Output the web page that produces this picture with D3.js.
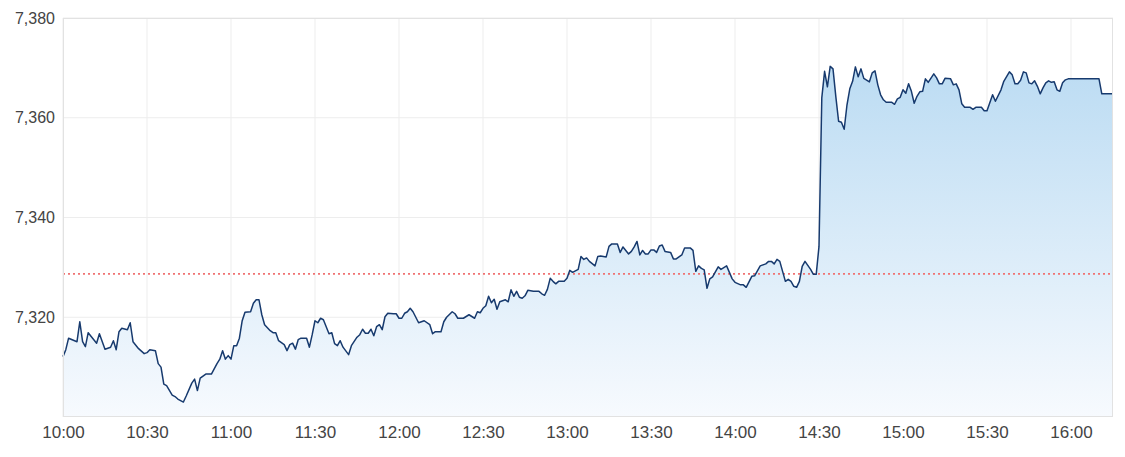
<!DOCTYPE html>
<html>
<head>
<meta charset="utf-8">
<script src="https://cdn.jsdelivr.net/npm/d3@7"></script>
<style>
  html, body { margin: 0; padding: 0; background: #fff; }
  svg { display: block; font-family: "Liberation Sans", Arial, sans-serif; }
</style>
</head>
<body>
<svg id="chart" width="1125" height="457"></svg>
<script>
// minutes after 10:00 and index level at that minute
const minutes = [
  0, 1, 2, 5, 6, 7, 8, 9, 12, 13, 15, 17, 18, 19, 20, 21, 23, 24, 25, 27,
  29, 30, 31, 33, 34, 35, 36, 37, 39, 40, 41, 43, 44, 46, 47, 48, 49, 51, 53, 55,
  56, 57, 58, 59, 60, 61, 62, 63, 64, 65, 67, 68, 69, 70, 71, 72, 74, 75, 76, 77,
  79, 80, 81, 82, 83, 84, 85, 87, 88, 89, 90, 91, 92, 93, 95, 96, 97, 98, 99, 100,
  102, 103, 105, 106, 107, 108, 109, 110, 111, 112, 113, 114, 115, 116, 118, 119, 120, 121, 122, 123,
  124, 125, 127, 128, 129, 131, 132, 133, 135, 136, 137, 139, 140, 141, 143, 145, 147, 148, 149, 150,
  151, 152, 153, 154, 155, 156, 158, 159, 160, 161, 162, 163, 164, 165, 166, 168, 170, 171, 172, 173,
  174, 175, 176, 177, 179, 180, 181, 182, 184, 185, 186, 187, 188, 190, 191, 192, 194, 195, 196, 198,
  199, 200, 202, 203, 204, 205, 206, 207, 208, 209, 210, 211, 212, 213, 214, 215, 217, 218, 219, 221,
  222, 224, 225, 226, 227, 228, 229, 230, 231, 232, 234, 235, 237, 239, 240, 242, 243, 244, 246, 247,
  249, 251, 252, 253, 254, 255, 256, 257, 258, 259, 260, 261, 262, 263, 264, 265, 267, 268, 269, 270,
  271, 272, 273, 274, 275, 276, 277, 278, 279, 280, 281, 282, 283, 284, 285, 286, 288, 289, 290, 291,
  292, 293, 294, 296, 297, 298, 299, 300, 301, 302, 303, 304, 305, 306, 307, 308, 309, 311, 312, 313,
  314, 315, 317, 318, 319, 320, 321, 322, 324, 325, 326, 328, 329, 330, 332, 333, 335, 336, 338, 339,
  340, 341, 342, 343, 344, 345, 346, 347, 348, 349, 350, 351, 352, 353, 354, 355, 356, 357, 358, 359,
  370, 371, 375
];
const prices = [
  7312.1, 7313.5, 7315.8, 7315.1, 7319.1, 7315.1, 7314.1, 7316.9, 7314.8, 7316.7, 7313.6, 7314.0, 7315.3, 7313.5, 7317.1, 7317.8, 7317.5, 7318.9, 7315.1, 7313.7,
  7312.7, 7312.9, 7313.5, 7313.3, 7310.7, 7310.0, 7306.6, 7306.3, 7304.4, 7304.1, 7303.6, 7303.0, 7304.2, 7306.8, 7307.6, 7305.3, 7307.8, 7308.6, 7308.6, 7310.7,
  7311.6, 7313.3, 7311.6, 7312.3, 7311.6, 7314.3, 7314.3, 7315.8, 7319.3, 7321.0, 7321.1, 7322.8, 7323.5, 7323.5, 7320.5, 7318.5, 7317.3, 7316.9, 7316.9, 7315.3,
  7314.5, 7313.3, 7314.5, 7314.8, 7313.6, 7315.5, 7315.8, 7315.8, 7314.0, 7316.5, 7319.3, 7318.9, 7319.8, 7319.5, 7316.7, 7316.9, 7314.7, 7314.3, 7315.3, 7314.0,
  7312.5, 7314.3, 7316.0, 7316.5, 7317.6, 7316.8, 7316.8, 7317.6, 7316.3, 7318.1, 7318.5, 7317.5, 7320.1, 7320.8, 7320.7, 7320.7, 7319.8, 7319.8, 7320.8, 7321.1,
  7321.8, 7321.1, 7318.9, 7319.1, 7319.3, 7318.5, 7316.7, 7317.1, 7317.1, 7319.1, 7320.0, 7321.1, 7320.7, 7319.8, 7319.8, 7320.5, 7319.8, 7321.1, 7320.9, 7321.8,
  7322.3, 7324.2, 7322.9, 7323.6, 7321.6, 7323.1, 7323.5, 7323.1, 7325.5, 7324.2, 7325.2, 7324.0, 7323.8, 7324.3, 7325.4, 7325.2, 7325.2, 7324.7, 7324.4, 7325.6,
  7327.8, 7327.2, 7326.7, 7327.2, 7327.2, 7327.8, 7329.4, 7329.0, 7329.6, 7332.2, 7331.6, 7331.9, 7331.2, 7330.3, 7332.2, 7332.3, 7332.1, 7334.2, 7334.7, 7334.7,
  7333.0, 7334.1, 7332.7, 7333.2, 7334.1, 7335.2, 7332.5, 7333.4, 7332.7, 7332.7, 7333.5, 7333.5, 7333.0, 7334.3, 7334.5, 7333.2, 7333.0, 7331.7, 7331.7, 7332.5,
  7333.9, 7333.9, 7333.4, 7329.2, 7330.3, 7329.8, 7329.5, 7325.8, 7327.7, 7328.1, 7330.1, 7329.6, 7330.3, 7327.7, 7327.0, 7326.5, 7326.5, 7326.0, 7328.2, 7328.3,
  7330.3, 7330.7, 7331.2, 7331.2, 7330.7, 7331.6, 7331.2, 7329.2, 7327.2, 7327.6, 7327.2, 7326.2, 7326.0, 7327.2, 7330.2, 7331.2, 7329.6, 7328.6, 7328.6, 7334.2,
  7364.0, 7369.3, 7366.2, 7370.3, 7369.8, 7364.3, 7359.3, 7359.1, 7357.7, 7362.6, 7365.8, 7367.3, 7370.2, 7368.2, 7369.8, 7367.9, 7367.2, 7369.0, 7369.4, 7366.6,
  7364.6, 7363.6, 7363.1, 7363.1, 7362.7, 7363.8, 7364.1, 7365.6, 7364.9, 7366.8, 7365.3, 7362.9, 7364.3, 7365.2, 7365.3, 7367.8, 7367.1, 7368.8, 7368.0, 7366.8,
  7366.8, 7367.9, 7367.8, 7366.6, 7366.8, 7365.6, 7362.8, 7362.1, 7362.1, 7361.7, 7362.1, 7362.1, 7361.4, 7361.4, 7364.6, 7363.3, 7365.6, 7367.3, 7369.2, 7368.6,
  7366.8, 7366.8, 7367.5, 7369.2, 7369.0, 7367.0, 7366.8, 7367.4, 7366.3, 7364.8, 7366.0, 7367.0, 7367.4, 7367.1, 7367.2, 7365.6, 7365.3, 7367.0, 7367.6, 7367.8,
  7367.8, 7364.8, 7364.8
];
const prevClose = 7328.7;
const xTickLabels = ["10:00", "10:30", "11:00", "11:30", "12:00", "12:30", "13:00", "13:30", "14:00", "14:30", "15:00", "15:30", "16:00"];
const yTicks = [7320, 7340, 7360, 7380];

const width = 1125;
const height = 457;
const margin = { top: 18, right: 12, bottom: 40, left: 63 };

const parseTime = d3.timeParse('%H:%M');
const open = parseTime('10:00');
const data = minutes.map((m, i) => ({ t: d3.timeMinute.offset(open, m), v: prices[i] }));

const svg = d3.select('#chart');

const x = d3
  .scaleTime()
  .domain([open, parseTime('16:15')])
  .range([margin.left, width - margin.right]);

const y = d3
  .scaleLinear()
  .domain([7300, 7380])
  .range([height - margin.bottom, margin.top]);

const defs = svg.append('defs');
const grad = defs
  .append('linearGradient')
  .attr('id', 'fillGrad')
  .attr('gradientUnits', 'userSpaceOnUse')
  .attr('x1', 0).attr('x2', 0)
  .attr('y1', y(7370)).attr('y2', y(7300));
grad.append('stop').attr('offset', '0%').attr('stop-color', '#bcdcf3');
grad.append('stop').attr('offset', '100%').attr('stop-color', '#f7fafe');

// grid
svg
  .append('g')
  .selectAll('line')
  .data(xTickLabels.map(parseTime))
  .enter()
  .append('line')
  .attr('x1', (d) => x(d)).attr('x2', (d) => x(d))
  .attr('y1', margin.top).attr('y2', height - margin.bottom)
  .attr('stroke', '#ededed');

svg
  .append('g')
  .selectAll('line')
  .data(yTicks)
  .enter()
  .append('line')
  .attr('x1', margin.left).attr('x2', width - margin.right)
  .attr('y1', (d) => y(d)).attr('y2', (d) => y(d))
  .attr('stroke', '#ededed');

// area + line
const area = d3
  .area()
  .x((d) => x(d.t))
  .y0(y(7300))
  .y1((d) => y(d.v));

const line = d3
  .line()
  .x((d) => x(d.t))
  .y((d) => y(d.v));

svg.append('path').datum(data).attr('d', area).attr('fill', 'url(#fillGrad)');

svg
  .append('line')
  .attr('x1', margin.left).attr('x2', width - margin.right)
  .attr('y1', y(prevClose)).attr('y2', y(prevClose))
  .attr('stroke', '#f07272')
  .attr('stroke-width', 1.6)
  .attr('stroke-dasharray', '2,3');

svg
  .append('path')
  .datum(data)
  .attr('d', line)
  .attr('fill', 'none')
  .attr('stroke', '#173a6e')
  .attr('stroke-width', 1.5)
  .attr('stroke-linejoin', 'round');

// frame
svg
  .append('rect')
  .attr('x', margin.left + 0.5)
  .attr('y', margin.top + 0.5)
  .attr('width', width - margin.left - margin.right - 1)
  .attr('height', height - margin.top - margin.bottom - 1)
  .attr('fill', 'none')
  .attr('stroke', '#e2e2e2');

// axes
const xAxis = svg
  .append('g')
  .attr('transform', `translate(0,${height - margin.bottom})`)
  .call(
    d3.axisBottom(x)
      .tickValues(xTickLabels.map(parseTime))
      .tickFormat(d3.timeFormat('%H:%M'))
      .tickSize(0)
      .tickPadding(9)
  );

const yAxis = svg
  .append('g')
  .attr('transform', `translate(${margin.left},0)`)
  .call(
    d3.axisLeft(y)
      .tickValues(yTicks)
      .tickFormat(d3.format(','))
      .tickSize(0)
      .tickPadding(8)
  );

svg.selectAll('.domain').remove();
xAxis.selectAll('text').attr('font-size', 17).attr('fill', '#444').attr('font-family', '"Liberation Sans", Arial, sans-serif');
yAxis.selectAll('text').attr('font-size', 16).attr('fill', '#444').attr('font-family', '"Liberation Sans", Arial, sans-serif');
</script>
</body>
</html>
